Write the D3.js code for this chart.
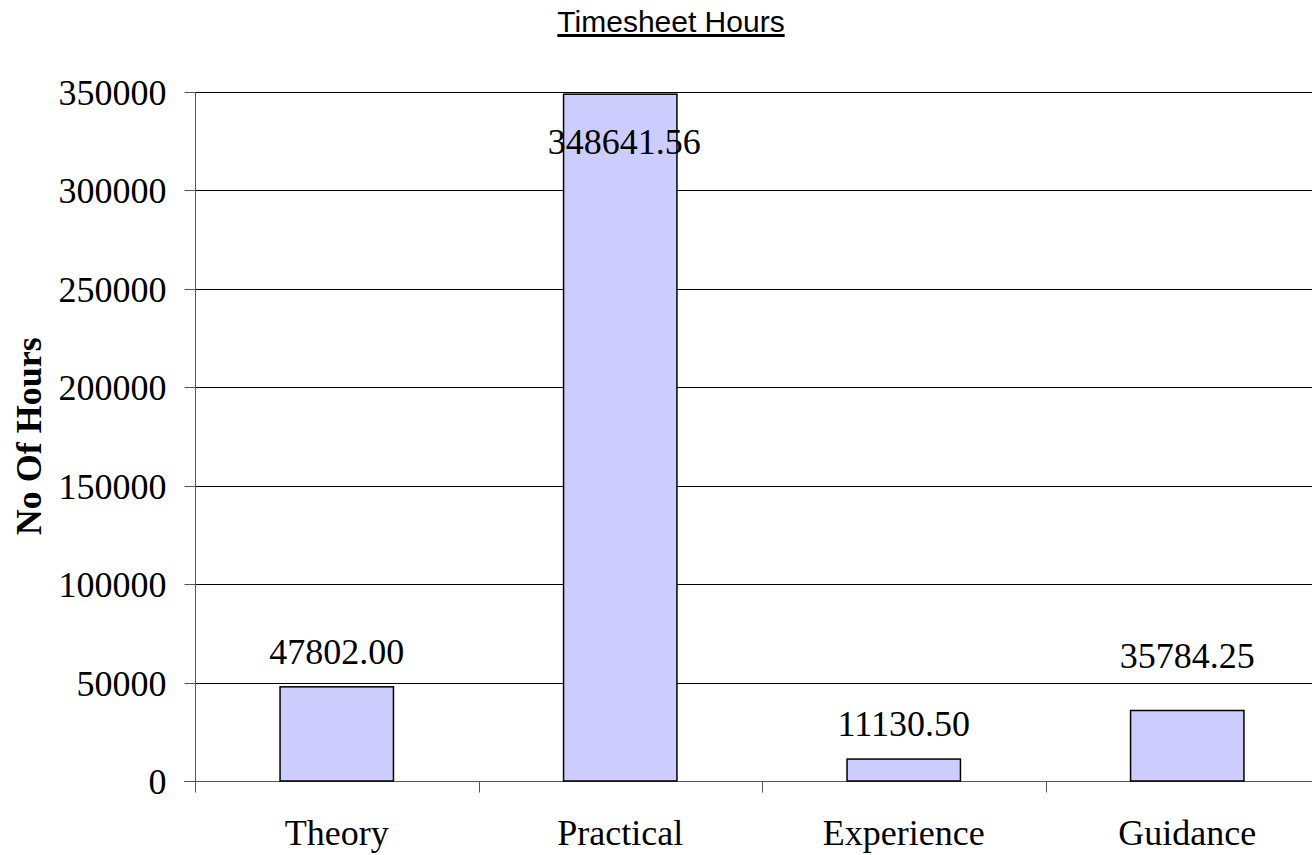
<!DOCTYPE html>
<html>
<head>
<meta charset="utf-8">
<script src="https://cdn.jsdelivr.net/npm/d3@7"></script>
<style>
  body { margin: 0; background: #fff; }
  svg { display: block; }
</style>
</head>
<body>
<div id="chart"></div>
<script>
////////////////////
// DATA
var categories = ["Theory", "Practical", "Experience", "Guidance"];
var hours = [47802.00, 348641.56, 11130.50, 35784.25];
var yTicks = [0, 50000, 100000, 150000, 200000, 250000, 300000, 350000];

////////////////////
// LAYOUT
var w = 1312, h = 855;
var plotLeft = 195, plotRight = 1329, plotTop = 91.5, plotBottom = 781;

var svg = d3.select("#chart").append("svg")
  .attr("width", w)
  .attr("height", h);

var x = d3.scaleBand()
  .domain(categories)
  .range([plotLeft, plotRight]);

var y = d3.scaleLinear()
  .domain([0, 350000])
  .range([plotBottom, plotTop]);

// gridlines
svg.append("g")
  .selectAll("line")
  .data(yTicks.filter(function(d) { return d > 0; }))
  .enter().append("line")
  .attr("x1", plotLeft)
  .attr("x2", w)
  .attr("y1", function(d) { return Math.round(y(d)) + 0.5; })
  .attr("y2", function(d) { return Math.round(y(d)) + 0.5; })
  .attr("stroke", "#000");

// y axis
var yAxis = svg.append("g")
  .attr("transform", "translate(" + (plotLeft + 0.5) + ",0)")
  .call(d3.axisLeft(y).tickValues(yTicks).tickSize(11).tickPadding(18).tickFormat(d3.format("d")));
yAxis.select(".domain").attr("stroke", "#555")
  .attr("d", "M0," + Math.round(plotTop) + "V" + Math.round(plotBottom));
yAxis.selectAll(".tick").attr("transform", function(d) { return "translate(0," + (Math.round(y(d)) + 0.5) + ")"; });
yAxis.selectAll(".tick line").attr("stroke", "#555");
yAxis.selectAll("text")
  .attr("font-family", "'Liberation Serif', 'Times New Roman', serif")
  .attr("font-size", 36)
  .attr("fill", "#000")
  .attr("dy", "0.36em");

// x axis
var xAxis = svg.append("g")
  .attr("transform", "translate(0," + (Math.round(plotBottom) + 0.5) + ")");
xAxis.append("line")
  .attr("x1", plotLeft - 11).attr("x2", w)
  .attr("stroke", "#555");
var bounds = categories.map(function(c) { return x(c); }).concat([plotRight]);
xAxis.selectAll(".xtick")
  .data(bounds)
  .enter().append("line")
  .attr("class", "xtick")
  .attr("x1", function(d) { return Math.round(d) + 0.5; })
  .attr("x2", function(d) { return Math.round(d) + 0.5; })
  .attr("y1", 0).attr("y2", 11)
  .attr("stroke", "#555");
xAxis.selectAll(".xlabel")
  .data(categories)
  .enter().append("text")
  .attr("class", "xlabel")
  .attr("x", function(d) { return x(d) + x.bandwidth() / 2; })
  .attr("y", 63)
  .attr("text-anchor", "middle")
  .attr("font-family", "'Liberation Serif', 'Times New Roman', serif")
  .attr("font-size", 36)
  .text(function(d) { return d; });

// bars
var data = categories.map(function(c, i) { return { cat: c, v: hours[i] }; });
var bw = x.bandwidth() * 0.4;
svg.append("g")
  .selectAll("rect")
  .data(data)
  .enter().append("rect")
  .attr("x", function(d) { return x(d.cat) + x.bandwidth() * 0.3; })
  .attr("width", bw)
  .attr("y", function(d) { return y(d.v); })
  .attr("height", function(d) { return y(0) - y(d.v); })
  .attr("fill", "#ccccff")
  .attr("stroke", "#000")
  .attr("stroke-width", 1.5);

// value labels (Guidance label sits a bit higher in the original)
var lift = { Guidance: 20 };
svg.append("g")
  .selectAll("text")
  .data(data)
  .enter().append("text")
  .attr("x", function(d) { return x(d.cat) + x.bandwidth() / 2 + (d.cat === "Practical" ? 4 : 0); })
  .attr("y", function(d) {
    var yy = y(d.v) - 23 - (lift[d.cat] || 0);
    return Math.max(yy, plotTop + 62);
  })
  .attr("text-anchor", "middle")
  .attr("font-family", "'Liberation Serif', 'Times New Roman', serif")
  .attr("font-size", 36)
  .text(function(d) { return d3.format(".2f")(d.v); });

// title
svg.append("text")
  .attr("x", 671)
  .attr("y", 32)
  .attr("text-anchor", "middle")
  .attr("font-family", "'Liberation Sans', Arial, sans-serif")
  .attr("font-size", 30)
  .attr("text-decoration", "underline")
  .text("Timesheet Hours");

// y label
svg.append("text")
  .attr("transform", "translate(41," + ((plotTop + plotBottom) / 2) + ") rotate(-90)")
  .attr("text-anchor", "middle")
  .attr("font-family", "'Liberation Serif', 'Times New Roman', serif")
  .attr("font-size", 36)
  .attr("font-weight", "bold")
  .text("No Of Hours");
</script>
</body>
</html>
